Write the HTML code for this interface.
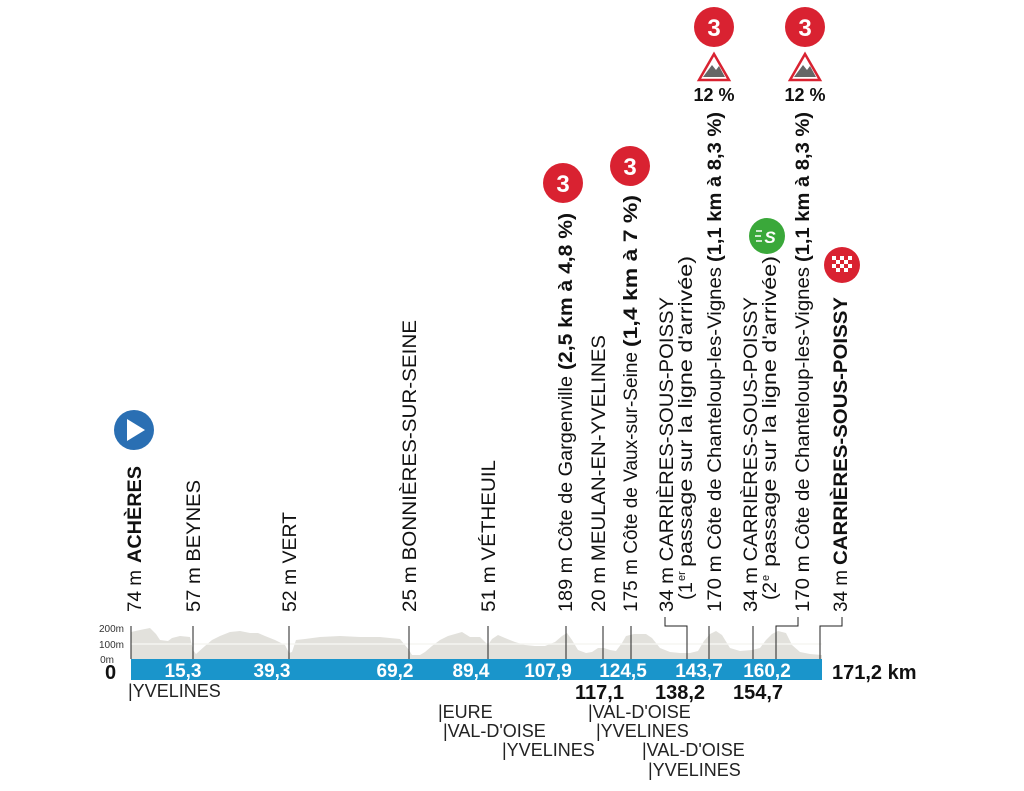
<!DOCTYPE html>
<html><head><meta charset="utf-8"><style>
html,body{margin:0;padding:0;background:#fff;}
svg{display:block;font-family:"Liberation Sans",Arial,sans-serif;}
</style></head><body>
<svg width="1024" height="791" viewBox="0 0 1024 791" xmlns="http://www.w3.org/2000/svg">
<polygon fill="#e2e1dc" points="131,659 131,632 140,630 150,628 156,634 160,640 168,641 172,638 180,636 190,637 193,650 196,654 205,646 212,640 220,636 230,632 240,631 250,633 258,633 265,636 275,640 285,645 289,653 292,652 296,640 305,639 320,637 340,636 360,637 380,637 400,639 409,650 412,655 420,655 425,652 432,646 440,640 448,636 455,634 462,632 470,637 480,637 488,645 492,639 498,635 505,638 515,642 525,645 535,646 545,646 555,642 562,636 567,633 572,640 578,650 586,653 592,652 598,648 604,648 610,650 616,651 622,643 626,636 634,634 646,634 652,638 660,648 670,652 680,653 690,653 698,651 704,641 710,634 716,631 722,635 730,648 740,651 752,650 760,648 766,640 772,634 778,631 786,633 792,645 800,652 810,654 822,655 822,659"/>
<line x1="131" y1="644" x2="822" y2="644" stroke="#f5f5f2" stroke-width="1.5"/>
<g stroke="#222" stroke-width="1">
<line x1="131" y1="626" x2="131" y2="659"/>
<line x1="193" y1="626" x2="193" y2="659"/>
<line x1="289" y1="626" x2="289" y2="659"/>
<line x1="409" y1="626" x2="409" y2="659"/>
<line x1="488" y1="626" x2="488" y2="659"/>
<line x1="566" y1="626" x2="566" y2="659"/>
<line x1="603" y1="626" x2="603" y2="659"/>
<line x1="631" y1="626" x2="631" y2="659"/>
<polyline fill="none" points="687,659 687,626 665,626 665,617"/>
<line x1="709" y1="626" x2="709" y2="659"/>
<line x1="753" y1="626" x2="753" y2="659"/>
<polyline fill="none" points="776,659 776,626 798,626 798,617"/>
<polyline fill="none" points="820,659 820,626 842,626 842,617"/>
</g>
<rect x="131" y="659" width="691" height="21" fill="#1a95cb"/>
<g font-size="10" fill="#333" text-anchor="end">
<text x="124" y="632">200m</text><text x="124" y="648">100m</text><text x="114" y="663">0m</text>
</g>
<text x="105" y="679" font-size="20" font-weight="bold" fill="#111">0</text>
<g font-size="19" font-weight="bold" fill="#fff" text-anchor="middle">
<text x="183" y="677">15,3</text><text x="272" y="677">39,3</text><text x="395" y="677">69,2</text>
<text x="471" y="677">89,4</text><text x="548" y="677">107,9</text><text x="623" y="677">124,5</text>
<text x="699" y="677">143,7</text><text x="767" y="677">160,2</text>
</g>
<g font-size="20" font-weight="bold" fill="#111">
<text x="832" y="679">171,2 km</text>
<text x="575" y="699">117,1</text><text x="655" y="699">138,2</text><text x="733" y="699">154,7</text>
</g>
<g font-size="18" fill="#222">
<text x="128" y="697">|YVELINES</text>
<text x="438" y="718">|EURE</text>
<text x="443" y="737">|VAL-D'OISE</text>
<text x="502" y="756">|YVELINES</text>
<text x="588" y="718">|VAL-D'OISE</text>
<text x="596" y="737">|YVELINES</text>
<text x="642" y="756">|VAL-D'OISE</text>
<text x="648" y="776">|YVELINES</text>
</g>
<g font-size="19" fill="#111">
<text transform="translate(141,612) rotate(-90)" textLength="42" lengthAdjust="spacingAndGlyphs">74 m</text>
<text transform="translate(141,563) rotate(-90)" font-weight="bold" textLength="97" lengthAdjust="spacingAndGlyphs">ACHÈRES</text>
<text transform="translate(200,612) rotate(-90)" textLength="132" lengthAdjust="spacingAndGlyphs">57 m BEYNES</text>
<text transform="translate(296,612) rotate(-90)" textLength="100" lengthAdjust="spacingAndGlyphs">52 m VERT</text>
<text transform="translate(416,612) rotate(-90)" textLength="292" lengthAdjust="spacingAndGlyphs">25 m BONNIÈRES-SUR-SEINE</text>
<text transform="translate(495,612) rotate(-90)" textLength="152" lengthAdjust="spacingAndGlyphs">51 m VÉTHEUIL</text>
<text transform="translate(572,612) rotate(-90)" textLength="236" lengthAdjust="spacingAndGlyphs">189 m Côte de Gargenville</text>
<text transform="translate(572,370) rotate(-90)" font-weight="bold" textLength="157" lengthAdjust="spacingAndGlyphs">(2,5 km à 4,8 %)</text>
<text transform="translate(605,612) rotate(-90)" textLength="277" lengthAdjust="spacingAndGlyphs">20 m MEULAN-EN-YVELINES</text>
<text transform="translate(637,612) rotate(-90)" textLength="260" lengthAdjust="spacingAndGlyphs">175 m Côte de Vaux-sur-Seine</text>
<text transform="translate(637,347) rotate(-90)" font-weight="bold" textLength="152" lengthAdjust="spacingAndGlyphs">(1,4 km à 7 %)</text>
<text transform="translate(673,612) rotate(-90)" textLength="315" lengthAdjust="spacingAndGlyphs">34 m CARRIÈRES-SOUS-POISSY</text>
<text transform="translate(692,600) rotate(-90)" textLength="18" lengthAdjust="spacingAndGlyphs">(1</text>
<text transform="translate(685,581) rotate(-90)" font-size="11">er</text>
<text transform="translate(692,567) rotate(-90)" textLength="311" lengthAdjust="spacingAndGlyphs">passage sur la ligne d'arrivée)</text>
<text transform="translate(721,612) rotate(-90)" textLength="345" lengthAdjust="spacingAndGlyphs">170 m Côte de Chanteloup-les-Vignes</text>
<text transform="translate(721,262) rotate(-90)" font-weight="bold" textLength="150" lengthAdjust="spacingAndGlyphs">(1,1 km à 8,3 %)</text>
<text transform="translate(757,612) rotate(-90)" textLength="315" lengthAdjust="spacingAndGlyphs">34 m CARRIÈRES-SOUS-POISSY</text>
<text transform="translate(776,600) rotate(-90)" textLength="18" lengthAdjust="spacingAndGlyphs">(2</text>
<text transform="translate(769,581) rotate(-90)" font-size="11">e</text>
<text transform="translate(776,567) rotate(-90)" textLength="311" lengthAdjust="spacingAndGlyphs">passage sur la ligne d'arrivée)</text>
<text transform="translate(809,612) rotate(-90)" textLength="345" lengthAdjust="spacingAndGlyphs">170 m Côte de Chanteloup-les-Vignes</text>
<text transform="translate(809,262) rotate(-90)" font-weight="bold" textLength="150" lengthAdjust="spacingAndGlyphs">(1,1 km à 8,3 %)</text>
<text transform="translate(847,612) rotate(-90)" textLength="42" lengthAdjust="spacingAndGlyphs">34 m</text>
<text transform="translate(847,565) rotate(-90)" font-weight="bold" textLength="268" lengthAdjust="spacingAndGlyphs">CARRIÈRES-SOUS-POISSY</text>
</g>
<circle cx="134" cy="430" r="20" fill="#2a6fb3"/>
<polygon points="127,419 127,441 145,430" fill="#fff"/>
<g font-size="24" font-weight="bold" fill="#fff" text-anchor="middle">
<circle cx="563" cy="183" r="20" fill="#d92231"/><text x="563" y="192">3</text>
<circle cx="630" cy="166" r="20" fill="#d92231"/><text x="630" y="175">3</text>
<circle cx="714" cy="27" r="20" fill="#d92231"/><text x="714" y="36">3</text>
<circle cx="805" cy="27" r="20" fill="#d92231"/><text x="805" y="36">3</text>
</g>
<g>
<polygon points="714,54 699,80 729,80" fill="#fff" stroke="#d92231" stroke-width="2.5"/>
<polygon points="703,77 712,65 716,70 719,66 725,77" fill="#666"/>
<polygon points="805,54 790,80 820,80" fill="#fff" stroke="#d92231" stroke-width="2.5"/>
<polygon points="794,77 803,65 807,70 810,66 816,77" fill="#666"/>
</g>
<g font-size="18" font-weight="bold" fill="#111" text-anchor="middle">
<text x="714" y="101">12 %</text><text x="805" y="101">12 %</text>
</g>
<circle cx="767" cy="236" r="18" fill="#3aa83a"/>
<text x="770" y="243" font-size="17" font-weight="bold" font-style="italic" fill="#fff" text-anchor="middle">S</text>
<g stroke="#fff" stroke-width="1.5"><line x1="756" y1="231" x2="762" y2="231"/><line x1="755" y1="236" x2="761" y2="236"/><line x1="756" y1="241" x2="762" y2="241"/></g>
<circle cx="842" cy="265" r="18" fill="#d92231"/>
<g fill="#fff">
<rect x="832" y="256" width="4" height="4"/><rect x="840" y="256" width="4" height="4"/><rect x="848" y="256" width="4" height="4"/>
<rect x="836" y="260" width="4" height="4"/><rect x="844" y="260" width="4" height="4"/>
<rect x="832" y="264" width="4" height="4"/><rect x="840" y="264" width="4" height="4"/><rect x="848" y="264" width="4" height="4"/>
<rect x="836" y="268" width="4" height="4"/><rect x="844" y="268" width="4" height="4"/>
</g>
</svg>
</body></html>
